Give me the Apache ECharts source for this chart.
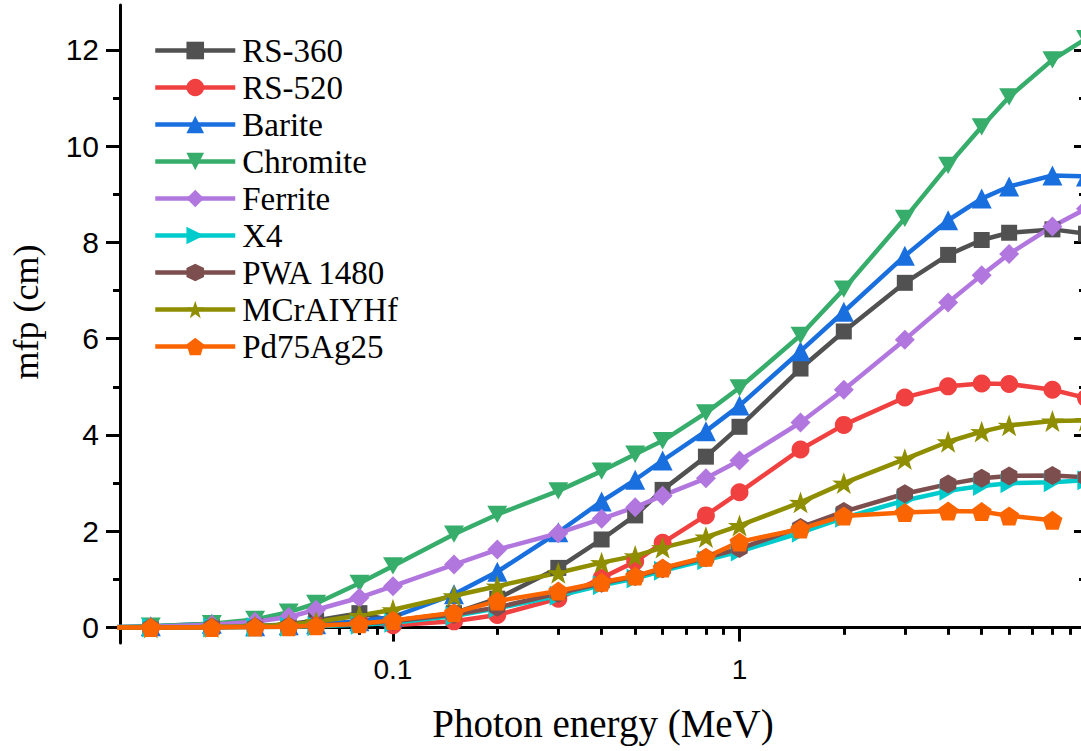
<!DOCTYPE html>
<html>
<head>
<meta charset="utf-8">
<script src="https://cdn.jsdelivr.net/npm/echarts@6/dist/echarts.min.js"></script>
<style>
html,body{margin:0;padding:0;background:#fff;}
#chart{width:1081px;height:751px;}
</style>
</head>
<body>
<div id="chart"></div>
<script>
// Photon energies (MeV)
const energies = [0.015, 0.02, 0.03, 0.04, 0.05, 0.06, 0.08, 0.1, 0.15, 0.2, 0.3, 0.4, 0.5, 0.6, 0.8, 1, 1.5, 2, 3, 4, 5, 6, 8, 10];
// mfp (cm) per material
const rs360    = [0, 0.01, 0.02, 0.03, 0.07, 0.15, 0.3, 0.14, 0.3, 0.6, 1.24, 1.83, 2.33, 2.86, 3.55, 4.17, 5.38, 6.15, 7.16, 7.74, 8.05, 8.2, 8.27, 8.18];
const rs520    = [0, 0, 0.01, 0.02, 0.03, 0.06, 0.12, 0.05, 0.13, 0.26, 0.6, 1.03, 1.37, 1.76, 2.33, 2.81, 3.7, 4.21, 4.78, 5.01, 5.07, 5.06, 4.94, 4.77];
const barite   = [0, 0.03, 0.08, 0.03, 0.05, 0.07, 0.13, 0.22, 0.69, 1.16, 1.98, 2.62, 3.07, 3.47, 4.08, 4.61, 5.74, 6.56, 7.72, 8.46, 8.91, 9.16, 9.39, 9.37];
const chromite = [0.01, 0.03, 0.08, 0.17, 0.32, 0.5, 0.92, 1.28, 1.94, 2.35, 2.84, 3.25, 3.6, 3.88, 4.46, 4.98, 6.07, 7.03, 8.5, 9.6, 10.4, 11.02, 11.79, 12.23];
const ferrite  = [0.01, 0.02, 0.06, 0.12, 0.22, 0.37, 0.62, 0.86, 1.31, 1.62, 1.96, 2.26, 2.5, 2.74, 3.1, 3.47, 4.26, 4.94, 5.98, 6.75, 7.32, 7.76, 8.33, 8.7];
const x4       = [0, 0, 0, 0.01, 0.02, 0.03, 0.06, 0.1, 0.24, 0.4, 0.66, 0.88, 1.02, 1.18, 1.4, 1.58, 1.97, 2.28, 2.64, 2.84, 2.94, 3.0, 3.02, 3.06];
const pwa1480  = [0, 0, 0.01, 0.02, 0.03, 0.05, 0.08, 0.13, 0.27, 0.42, 0.71, 0.92, 1.06, 1.22, 1.45, 1.64, 2.08, 2.41, 2.78, 2.98, 3.1, 3.15, 3.16, 3.12];
const mcraly   = [0, 0, 0.01, 0.03, 0.06, 0.12, 0.25, 0.37, 0.66, 0.86, 1.14, 1.35, 1.49, 1.66, 1.88, 2.12, 2.6, 3.0, 3.5, 3.86, 4.07, 4.2, 4.29, 4.3];
const pd75ag25 = [0, 0, 0, 0.01, 0.02, 0.04, 0.08, 0.15, 0.31, 0.55, 0.76, 0.94, 1.07, 1.24, 1.46, 1.78, 2.05, 2.32, 2.39, 2.42, 2.41, 2.32, 2.23, null];

const seriesNames = ['RS-360', 'RS-520', 'Barite', 'Chromite', 'Ferrite', 'X4', 'PWA 1480', 'MCrAIYHf', 'Pd75Ag25'];
const seriesValues = [rs360, rs520, barite, chromite, ferrite, x4, pwa1480, mcraly, pd75ag25];

// Tick values
const xMajorTicks = [0.1, 1, 10];
const xLabelValues = [0.1, 1];
const xMinorTicks = [0.02, 0.03, 0.04, 0.05, 0.06, 0.07, 0.08, 0.09, 0.2, 0.3, 0.4, 0.5, 0.6, 0.7, 0.8, 0.9, 2, 3, 4, 5, 6, 7, 8, 9];
const yMajorTicks = [0, 2, 4, 6, 8, 10, 12];
const yMinorTicks = [1, 3, 5, 7, 9, 11];

const colors = ['#515151', '#F14040', '#1A6FDF', '#37AD6B', '#B177DE', '#00CBCC', '#7D4E4E', '#8E8E00', '#FB6501'];
const symbols = [
  'rect',
  'circle',
  'triangle',
  'path://M0,0L2,0L1,1.73Z',
  'diamond',
  'path://M0,0L1.73,1L0,2Z',
  'path://M0.866,0L1.732,0.5L1.732,1.5L0.866,2L0,1.5L0,0.5Z',
  'path://M50,0L61.8,35.1L97.6,34.5L68.8,56.7L79.4,90.5L50,70L20.6,90.5L31.2,56.7L2.4,34.5L38.2,35.1Z',
  'path://M50,0L97.6,34.5L79.4,90.5L20.6,90.5L2.4,34.5Z'
];
const symbolSizes = [16, 18, 20, 20, 20, 20, 19, 23, 20];

const XMIN = 0.0163, XMAX = 10, YMIN = -0.32, YMAX = 12.93;
const sansFont = 'Liberation Sans, Arial, sans-serif';
const serifFont = 'Liberation Serif, Times New Roman, serif';

function xAxisDef(pos, ticks, len, inside, showLine, labels) {
  return {
    type: 'log', logBase: 10, min: XMIN, max: XMAX, position: pos,
    axisLine: { show: showLine, lineStyle: { color: '#000', width: 3 } },
    axisTick: { show: true, inside: inside, length: len, customValues: ticks, lineStyle: { color: '#000', width: 3 } },
    axisLabel: labels ? { show: true, customValues: labels, margin: 12, fontSize: 28, fontFamily: sansFont, color: '#000',
      formatter: v => String(+(+v).toPrecision(3)) } : { show: false },
    splitLine: { show: false }, minorTick: { show: false }, minorSplitLine: { show: false }
  };
}
function yAxisDef(pos, ticks, len, inside, showLine, labels) {
  return {
    type: 'value', min: YMIN, max: YMAX, position: pos,
    axisLine: { show: showLine, onZero: false, lineStyle: { color: '#000', width: 3 } },
    axisTick: { show: true, inside: inside, length: len, customValues: ticks, lineStyle: { color: '#000', width: 3 } },
    axisLabel: labels ? { show: true, customValues: labels, margin: 21, fontSize: 30, fontFamily: sansFont, color: '#000' } : { show: false },
    splitLine: { show: false }
  };
}

const xAxes = [
  Object.assign(xAxisDef('bottom', xMajorTicks, 14, false, true, xLabelValues), {
    name: 'Photon energy (MeV)', nameLocation: 'middle', nameGap: 61,
    nameTextStyle: { fontFamily: serifFont, fontSize: 39, color: '#000' }
  }),
  xAxisDef('bottom', xMinorTicks, 7, false, false, null),
  xAxisDef('top', xMajorTicks, 12, true, true, null),
  xAxisDef('top', xMinorTicks, 7, true, false, null)
];
const yAxes = [
  Object.assign(yAxisDef('left', yMajorTicks, 14, false, true, yMajorTicks), {
    name: 'mfp (cm)', nameLocation: 'middle', nameGap: 76, nameRotate: 90,
    nameTextStyle: { fontFamily: serifFont, fontSize: 36, color: '#000', padding: [0, 0, 0, 24] }
  }),
  yAxisDef('left', yMinorTicks, 7, false, false, null),
  yAxisDef('right', yMajorTicks, 12, true, true, null),
  yAxisDef('right', yMinorTicks, 7, true, false, null)
];

const series = seriesNames.map((name, i) => ({
  name: name,
  type: 'line',
  xAxisIndex: 0, yAxisIndex: 0,
  data: energies.map((e, j) => [e, seriesValues[i][j]]).filter(p => p[1] !== null),
  symbol: symbols[i],
  symbolSize: symbolSizes[i],
  symbolKeepAspect: true,
  showAllSymbol: true,
  clip: true,
  lineStyle: { color: colors[i], width: 4.5 },
  itemStyle: { color: colors[i], borderWidth: 0 },
  emphasis: { disabled: true }
}));

const chart = echarts.init(document.getElementById('chart'), null, { renderer: 'svg' });
chart.setOption({
  animation: false,
  backgroundColor: '#fff',
  grid: { left: 120, right: -5, top: 5, bottom: 108, containLabel: false, outerBoundsMode: 'none' },
  legend: {
    orient: 'vertical', left: 148, top: 29,
    itemWidth: 80, itemHeight: 22, itemGap: 4,
    lineStyle: { width: 4.5 },
    textStyle: { fontFamily: serifFont, fontSize: 33, lineHeight: 32, color: '#000', padding: [0, 0, 0, 2] },
    data: seriesNames
  },
  xAxis: xAxes,
  yAxis: yAxes,
  series: series
});
</script>
</body>
</html>
